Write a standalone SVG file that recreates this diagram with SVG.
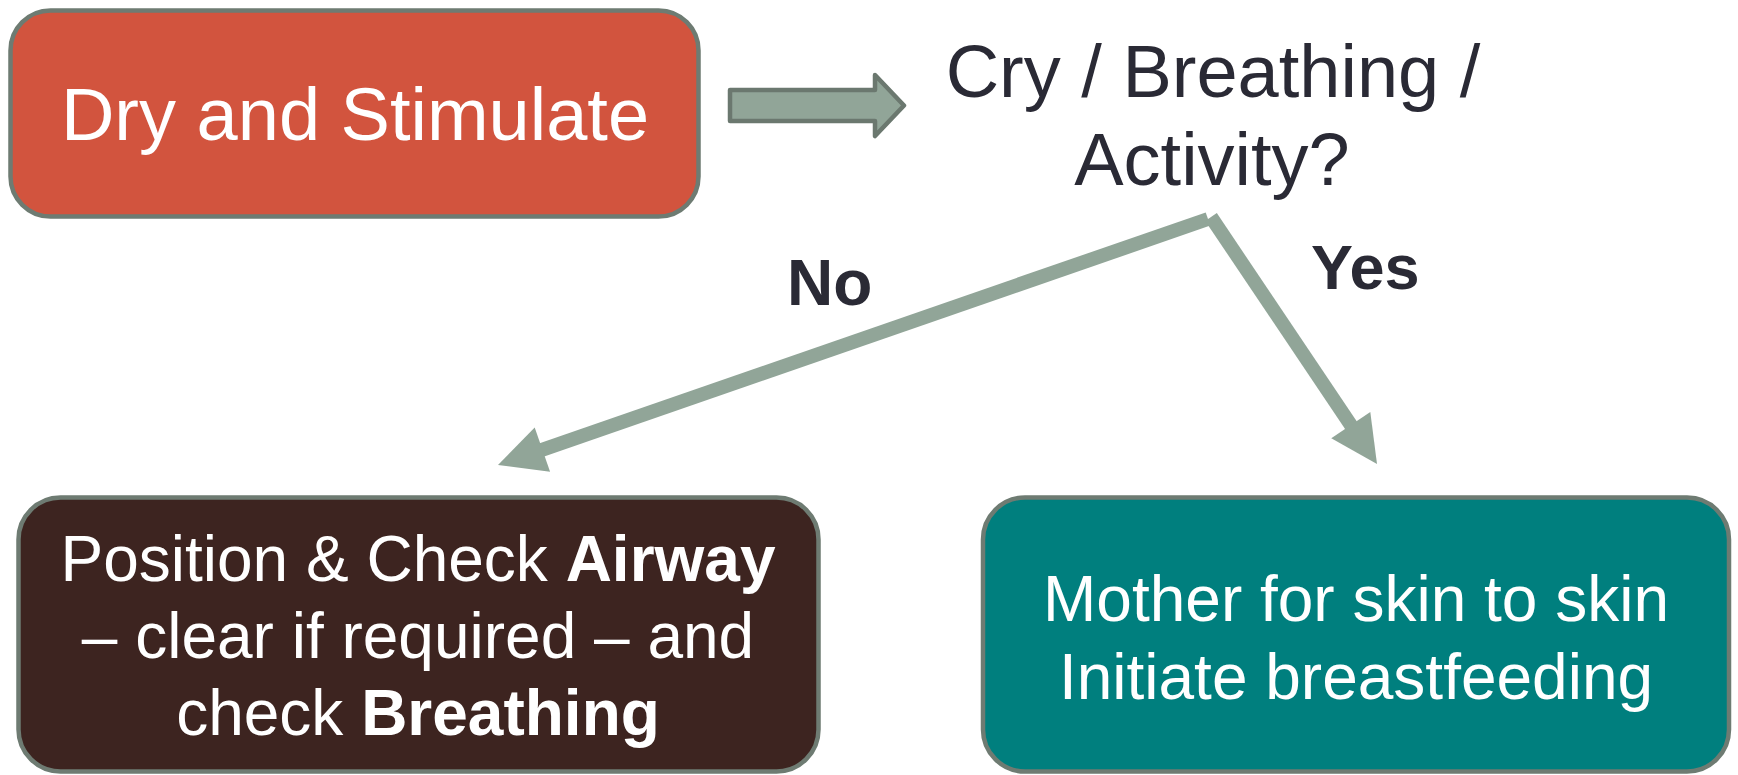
<svg xmlns="http://www.w3.org/2000/svg" width="1738" height="775" viewBox="0 0 1738 775">
<style>
.box{stroke:#6E7B72;stroke-width:4.5}
.lbl{font-family:"Liberation Sans",Arial,sans-serif;fill:#FFFFFF;text-anchor:middle}
.dark{font-family:"Liberation Sans",Arial,sans-serif;fill:#2A2A35}
.conn{stroke:#91A598;stroke-width:14;fill:none;stroke-linecap:butt}
</style>
<defs>
<marker id="head" markerUnits="userSpaceOnUse" markerWidth="48" markerHeight="48" refX="2" refY="23.5" orient="auto" viewBox="0 0 48 48" overflow="visible">
<path d="M0,0 L47,23.5 L0,47 Z" fill="#91A598"/>
</marker>
</defs>
<rect width="1738" height="775" fill="#FFFFFF"/>
<g id="connectors">
<path class="conn" d="M1208,219 L540.5,450.3" marker-end="url(#head)"/>
<path class="conn" d="M1211,217 L1351.9,426.7" marker-end="url(#head)"/>
<polygon points="730,90 875,90 875,75 904,105.5 875,136 875,121 730,121" fill="#91A598" stroke="#6B786F" stroke-width="4.5" stroke-linejoin="round"/>
<text class="dark" x="787" y="305" font-size="64" font-weight="bold">No</text>
<text class="dark" x="1311" y="289" font-size="63" font-weight="bold">Yes</text>
</g>
<g id="dry">
<rect class="box" x="10.5" y="10.5" width="688" height="206" rx="40" ry="40" fill="#D2543E"/>
<text class="lbl" x="355" y="140" font-size="74">Dry and Stimulate</text>
</g>
<g id="question">
<text class="dark" x="1213" y="97" font-size="74" text-anchor="middle">Cry / Breathing /</text>
<text class="dark" x="1212" y="185" font-size="74" text-anchor="middle">Activity?</text>
</g>
<g id="airway">
<rect class="box" x="18.5" y="497.5" width="800" height="274" rx="42" ry="42" fill="#3D2420"/>
<text class="lbl" x="418" y="581" font-size="64">Position &amp; Check <tspan font-weight="bold">Airway</tspan></text>
<text class="lbl" x="418" y="658" font-size="64">– clear if required – and</text>
<text class="lbl" x="418" y="735" font-size="64">check <tspan font-weight="bold">Breathing</tspan></text>
</g>
<g id="skin">
<rect class="box" x="983" y="497.5" width="746" height="274" rx="42" ry="42" fill="#007F7E"/>
<text class="lbl" x="1356" y="621" font-size="64">Mother for skin to skin</text>
<text class="lbl" x="1356" y="699" font-size="64">Initiate breastfeeding</text>
</g>
</svg>
